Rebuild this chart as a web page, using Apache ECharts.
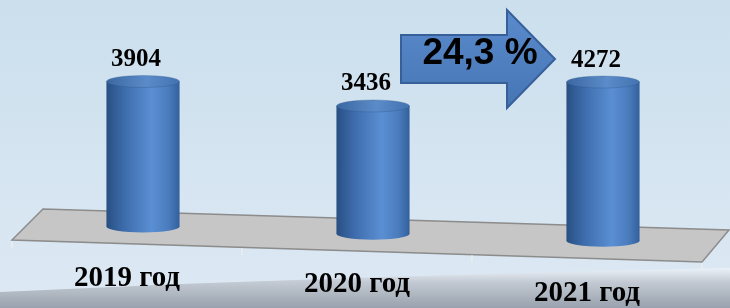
<!DOCTYPE html>
<html>
<head>
<meta charset="utf-8">
<script src="https://cdn.jsdelivr.net/npm/echarts@6/dist/echarts.min.js"></script>
<style>
  html, body { margin: 0; padding: 0; }
  #main { width: 730px; height: 308px; }
</style>
</head>
<body>
<div id="main"></div>
<script>
var years = ['2019 год', '2020 год', '2021 год'];
var values = [3904, 3436, 4272];
var growth = '24,3 %';

var GRID_LEFT = 12;
var SLOPE = 0.031;   // floor tilt, px down per px right
var DEPTH = 16;      // bars stand a bit behind the front edge
var RY = 6;

var dom = document.getElementById('main');
var myChart = echarts.init(dom);

var sideGrad = new echarts.graphic.LinearGradient(0, 0, 1, 0, [
    {offset: 0, color: '#284f82'},
    {offset: 0.25, color: '#3e6dad'},
    {offset: 0.62, color: '#5a8fd3'},
    {offset: 0.85, color: '#4a7cbd'},
    {offset: 1, color: '#32609b'}
]);
var topGrad = new echarts.graphic.LinearGradient(0, 0, 1, 0, [
    {offset: 0, color: '#3a67a0'},
    {offset: 0.55, color: '#5b8bc9'},
    {offset: 1, color: '#4272b0'}
]);

function ellipse(cx, cy, rx, fill, stroke) {
    return {
        type: 'circle',
        x: cx, y: cy,
        scaleY: RY / rx,
        shape: {cx: 0, cy: 0, r: rx},
        style: {fill: fill, stroke: stroke || null, lineWidth: stroke ? 1 : 0}
    };
}

function renderCylinder(params, api) {
    var i = api.value(0);
    var top = api.coord([i, api.value(1)]);
    var base = api.coord([i, 0]);
    var tilt = (base[0] - GRID_LEFT) * SLOPE;
    var cx = base[0] + DEPTH;
    var yTop = top[1] + tilt;
    var yBot = base[1] + tilt;
    var rx = api.size([1, 0])[0] * 0.159;
    return {
        type: 'group',
        children: [
            ellipse(cx, yBot, rx, sideGrad),
            {
                type: 'rect',
                shape: {x: cx - rx, y: yTop, width: rx * 2, height: yBot - yTop},
                style: {fill: sideGrad}
            },
            ellipse(cx, yTop, rx, topGrad, 'rgba(40,80,130,0.5)'),
            {
                type: 'text',
                x: cx - 7, y: yTop - 22,
                style: {
                    text: String(api.value(1)),
                    fontFamily: 'Liberation Serif',
                    fontWeight: 'bold',
                    fontSize: 25,
                    fill: '#000',
                    align: 'center',
                    verticalAlign: 'middle'
                }
            }
        ]
    };
}

var option = {
    backgroundColor: new echarts.graphic.LinearGradient(0, 0, 0, 1, [
        {offset: 0, color: '#cbdfed'},
        {offset: 1, color: '#dde9f4'}
    ]),
    animation: false,
    grid: {left: GRID_LEFT, right: 28, top: 0, bottom: 83},
    xAxis: {
        type: 'category',
        data: years,
        axisLine: {show: false},
        axisTick: {show: false},
        axisLabel: {
            margin: 41,
            formatter: function (value, index) {
                return '{l' + index + '|' + value + '}';
            },
            rich: {
                l0: {padding: [0, 0, 0, 0]},
                l1: {padding: [6, 0, 0, 0]},
                l2: {padding: [15, 0, 0, 0]}
            },
            fontFamily: 'Liberation Serif',
            fontWeight: 'bold',
            fontSize: 29,
            color: '#000'
        }
    },
    yAxis: {type: 'value', min: 0, max: 6000, show: false},
    graphic: [
        {
            // bottom swoosh
            type: 'polygon',
            z: 0,
            shape: {
                points: [[0, 292], [180, 284], [380, 277], [560, 272], [730, 268], [730, 308], [0, 308]]
            },
            style: {
                fill: new echarts.graphic.LinearGradient(0, 0, 0, 1, [
                    {offset: 0, color: 'rgba(236,242,248,0.9)'},
                    {offset: 0.35, color: '#c3cad3'},
                    {offset: 1, color: '#98a1ad'}
                ])
            }
        },
        {
            // floor
            type: 'polygon',
            z: 1,
            shape: {points: [[12, 240], [43, 209], [729, 230], [702, 262]]},
            style: {fill: '#c6c6c6', stroke: '#8c8c8c', lineWidth: 1.5}
        },
        {type: 'line', z: 1, shape: {x1: 12, y1: 241, x2: 12, y2: 248}, style: {stroke: '#f0f0f0', lineWidth: 1}},
        {type: 'line', z: 1, shape: {x1: 242, y1: 248, x2: 242, y2: 255}, style: {stroke: '#f0f0f0', lineWidth: 1}},
        {type: 'line', z: 1, shape: {x1: 472, y1: 255, x2: 472, y2: 262}, style: {stroke: '#f0f0f0', lineWidth: 1}},
        {type: 'line', z: 1, shape: {x1: 702, y1: 263, x2: 702, y2: 270}, style: {stroke: '#f0f0f0', lineWidth: 1}},
        {
            // growth arrow
            type: 'polygon',
            z: 3,
            shape: {points: [[401, 35], [507, 35], [507, 10], [555, 59], [507, 108], [507, 83], [401, 83]]},
            style: {
                fill: new echarts.graphic.LinearGradient(0, 0, 0, 1, [
                    {offset: 0, color: '#5a8bcc'},
                    {offset: 1, color: '#4675b4'}
                ]),
                stroke: '#37609a',
                lineWidth: 2
            }
        },
        {
            type: 'text',
            z: 4,
            x: 480, y: 54,
            style: {
                text: growth,
                fontFamily: 'Liberation Sans',
                fontWeight: 'bold',
                fontSize: 37,
                fill: '#000',
                align: 'center',
                verticalAlign: 'middle'
            }
        }
    ],
    series: [
        {
            type: 'custom',
            z: 2,
            renderItem: renderCylinder,
            encode: {x: 0, y: 1},
            data: values.map(function (v, i) { return [i, v]; })
        }
    ]
};

if (option && typeof option === 'object') {
    myChart.setOption(option);
}
</script>
</body>
</html>
